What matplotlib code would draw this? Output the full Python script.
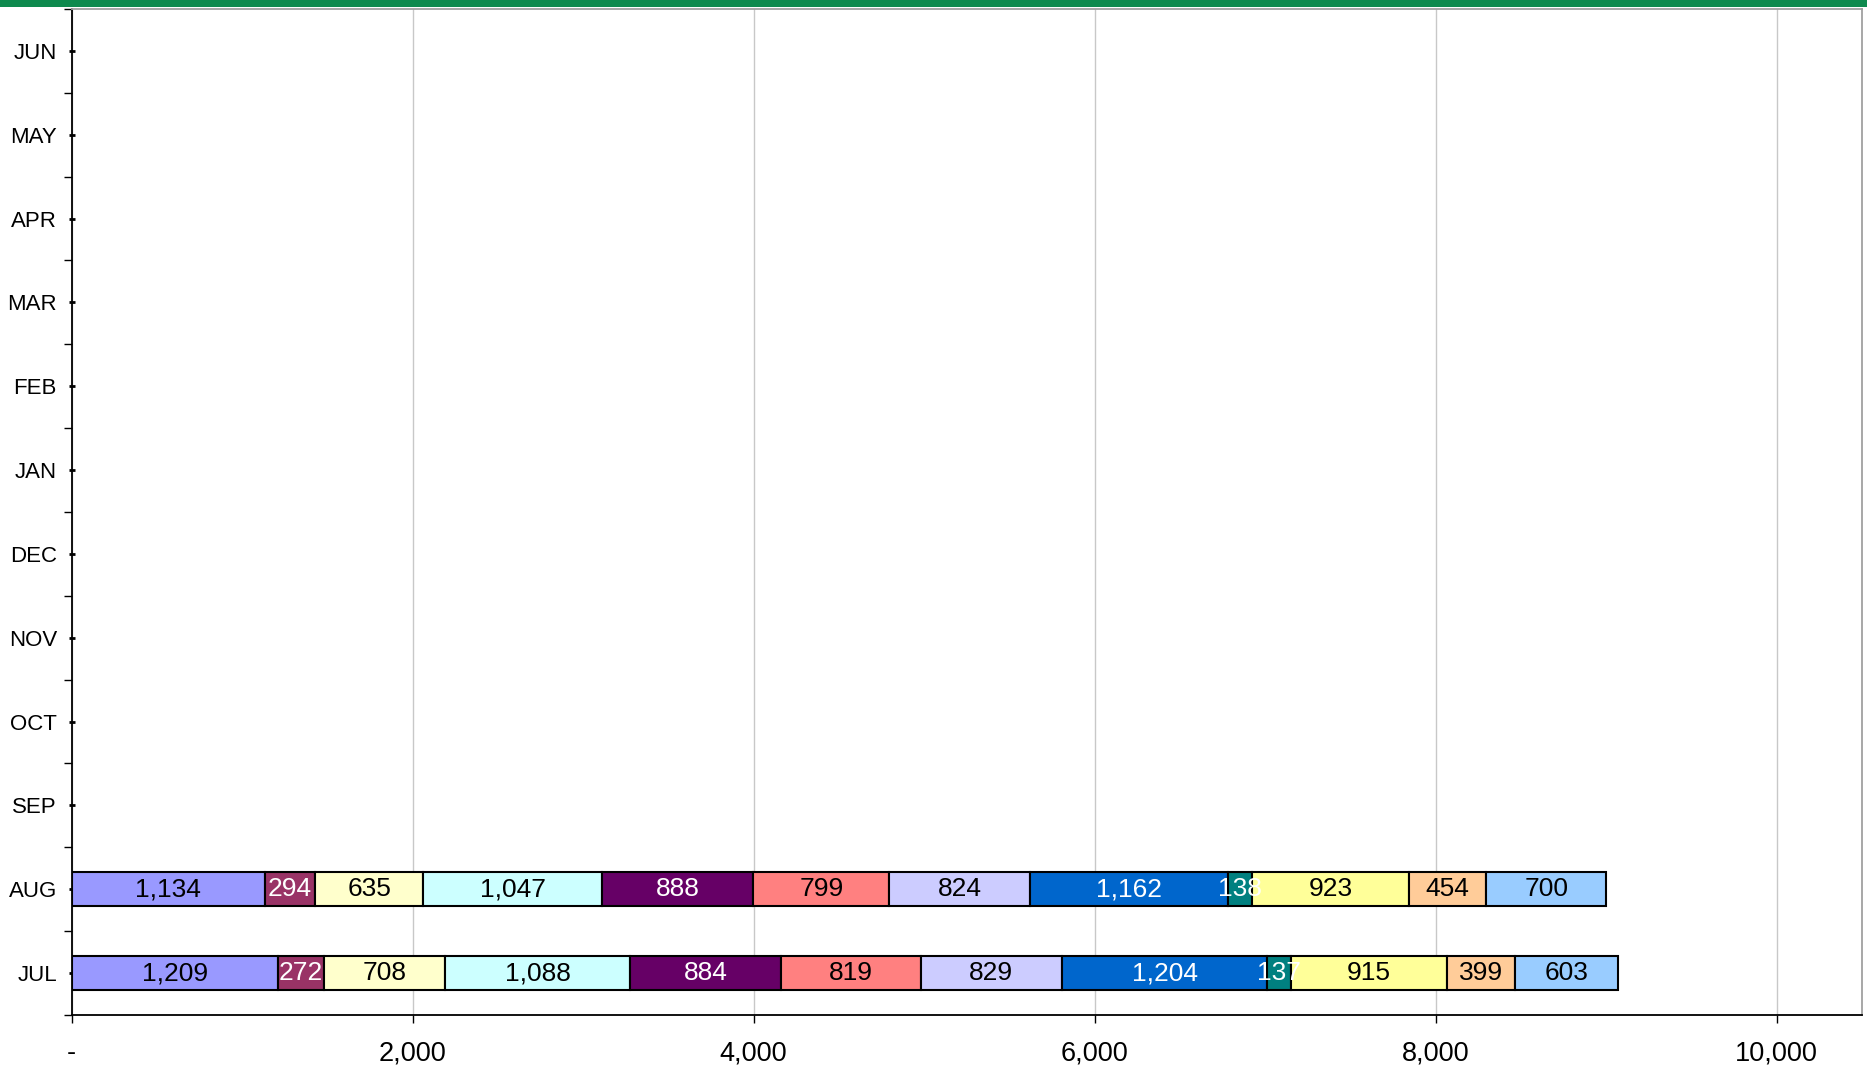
import matplotlib
matplotlib.use("Agg")
import matplotlib.pyplot as plt
from matplotlib.patches import Rectangle
import numpy as np

plt.rcParams['font.family'] = ['Liberation Sans', 'DejaVu Sans']

months = ["JUL", "AUG", "SEP", "OCT", "NOV", "DEC", "JAN", "FEB", "MAR", "APR", "MAY", "JUN"]
# series values for JUL and AUG (other months empty)
s1 = [1209, 1134]
s2 = [272, 294]
s3 = [708, 635]
s4 = [1088, 1047]
s5 = [884, 888]
s6 = [819, 799]
s7 = [829, 824]
s8 = [1204, 1162]
s9 = [137, 138]
s10 = [915, 923]
s11 = [399, 454]
s12 = [603, 700]
series = [s1, s2, s3, s4, s5, s6, s7, s8, s9, s10, s11, s12]
colors = ["#9999FF", "#993366", "#FFFFCC", "#CCFFFF", "#660066", "#FF8080",
          "#CCCCFF", "#0066CC", "#008080", "#FFFF99", "#FFCC99", "#99CCFF"]
text_colors = ["black", "white", "black", "black", "white", "black",
               "black", "white", "white", "black", "black", "black"]
xticks = [0, 2000, 4000, 6000, 8000, 10000]
xticklabels = ["-", "2,000", "4,000", "6,000", "8,000", "10,000"]

fig = plt.figure(figsize=(18.67, 10.70), dpi=100)
ax = fig.add_axes([0.0383, 0.0514, 0.959, 0.9402])

fig.patches.append(Rectangle((0, 1 - 7 / 1070), 1, 7 / 1070, transform=fig.transFigure,
                             facecolor="#0E8A4E", edgecolor="none", zorder=10))

ypos = np.arange(len(s1))
left = np.zeros(len(s1))
for vals, c, tc in zip(series, colors, text_colors):
    v = np.array(vals, dtype=float)
    bars = ax.barh(ypos, v, left=left, height=0.4, color=c, edgecolor="black",
                   linewidth=1.5, zorder=3)
    for b, val in zip(bars, v):
        ax.text(b.get_x() + b.get_width() / 2, b.get_y() + b.get_height() / 2,
                f"{val:,.0f}", ha="center", va="center", color=tc, fontsize=19,
                zorder=4)
    left += v

ax.set_ylim(-0.5, len(months) - 0.5)
ax.set_yticks(np.arange(len(months)))
ax.set_yticklabels(months, fontsize=16)
ax.set_yticks(np.arange(len(months) + 1) - 0.5, minor=True)
ax.tick_params(axis="y", which="major", direction="inout", length=5, width=2, pad=8)
ax.tick_params(axis="y", which="minor", direction="out", length=6, width=1)

ax.set_xlim(0, 10500)
ax.set_xticks(xticks)
ax.set_xticklabels(xticklabels, fontsize=19.5)
ax.tick_params(axis="x", direction="out", length=6, width=1, pad=12)
ax.xaxis.grid(True, color="#c8c8c8", linewidth=1, zorder=0)
ax.set_axisbelow(True)

for side in ["left", "bottom"]:
    ax.spines[side].set_color("black")
    ax.spines[side].set_linewidth(1.3)
for side in ["top", "right"]:
    ax.spines[side].set_color("#a0a0a0")
    ax.spines[side].set_linewidth(1.3)

fig.savefig("out.png", dpi=100)
